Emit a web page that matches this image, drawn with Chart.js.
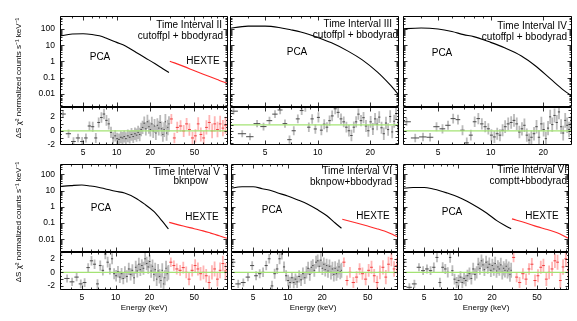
<!DOCTYPE html>
<html><head><meta charset="utf-8">
<script src="https://cdn.jsdelivr.net/npm/chart.js@4.4.1/dist/chart.umd.min.js"></script>
<style>
html,body{margin:0;padding:0;background:#fff;}
body{width:577px;height:321px;position:relative;overflow:hidden;font-family:"Liberation Sans",Arial,sans-serif;color:#000;}
canvas{position:absolute;}
.t{position:absolute;font-size:10px;line-height:10px;white-space:nowrap;}
.yt{position:absolute;font-size:8px;line-height:8px;white-space:nowrap;transform:translate(-50%,-50%) rotate(-90deg);}
.xt{position:absolute;font-size:8px;line-height:8px;white-space:nowrap;transform:translate(-50%,-50%);}
</style></head><body>
<script>
// ---------------- DATA ----------------
const pcaE = [3.3,3.7,4.1,4.5,4.9,5.3,5.7,6.1,6.5,6.9,7.3,7.7,8.1,8.5,8.9,9.3,9.7,10.1,10.5,10.9,11.3,11.7,12.1,12.6,13.1,13.6,14.1,14.6,15.1,15.6,16.1,16.6,17.1,17.7,18.3,18.9,19.5,20.1,20.7,21.3,21.9,22.5,23.2,23.9,24.6,25.3,26.0,26.7,27.4,28.1,28.8,29.5];
const hexteE = [31,33,35,37.5,40,42.5,45,48,51,54,57,60.5,64,68,72,76,80.5,85,90,95];
const pcaErr = [0.55,0.6,0.6,0.6,0.65,0.65,0.65,0.7,0.7,0.7,0.75,0.75,0.75,0.8,0.8,0.8,0.8,0.85,0.85,0.85,0.85,0.85,0.9,0.9,0.9,0.9,0.9,0.9,0.95,0.95,0.95,0.95,0.95,0.95,0.95,1.0,1.0,1.0,1.0,1.0,1.0,1.0,1.0,1.05,1.05,1.05,1.05,1.05,1.1,1.1,1.1,1.1];
const hexteErr = [0.7,0.75,0.8,0.8,0.85,0.85,0.9,0.9,0.95,0.95,1.0,1.0,1.0,1.05,1.05,1.1,1.1,1.15,1.15,1.2];

// residuals (PCA) per interval
const resII  = [2.4,-0.4,-1.5,-1.0,-1.5,-1.0,0.7,0.6,-1.0,1.2,1.9,2.4,1.5,1.0,-0.2,-1.0,-0.7,-1.1,-1.2,-0.9,-1.0,-0.8,-1.1,-0.7,-0.9,-0.5,-0.8,-0.4,-0.6,-0.2,-0.5,0.2,0.5,1.1,0.3,1.3,0.6,0.2,1.0,0.0,0.7,-0.3,0.8,0.4,1.2,0.3,-0.5,0.2,1.3,-0.3,0.5,1.0];
const resIII = [2.3,-1.5,-2.0,0.2,-0.3,0.7,1.8,2.5,0.2,-2.5,-1.0,1.0,2.4,3.0,-0.4,1.0,-0.7,1.25,-0.9,0.1,-0.4,0.7,1.5,2.7,2.1,1.0,0.5,-0.4,-1.0,-1.8,-0.4,0.5,1.8,0.7,1.2,-0.2,-1.0,0.5,-0.7,1.0,0.1,1.3,-0.5,-1.5,0.3,-0.8,1.4,-1.2,0.6,1.9,-0.3,0.8];
const resIV  = [1.3,-1.0,-0.85,-0.9,0.6,0.3,0.8,1.75,1.6,0.1,-1.7,-0.6,1.3,1.75,1.0,0.6,0.3,-0.6,-0.85,-0.4,-0.6,0.1,0.6,1.0,1.2,1.5,1.0,-0.15,0.3,0.8,-0.6,-1.3,-0.9,-0.4,0.6,-0.9,1.0,0.2,-1.1,0.4,2.0,0.9,2.2,1.2,2.7,0.6,-0.3,1.5,0.8,0.2,1.0,0.4];
const resV   = [3.0,-0.9,-1.4,-0.7,-1.7,-1.5,0.7,1.7,1.2,-1.7,1.0,0.3,2.7,1.5,0.5,2.0,-0.2,-0.5,0.1,-0.7,-0.2,-0.9,0.0,-0.6,0.5,-0.3,0.3,-0.8,0.75,0.2,1.2,0.4,1.0,0.6,2.0,1.3,0.8,1.6,0.2,0.9,-0.3,0.4,-1.0,0.2,-0.6,-1.2,0.3,-1.7,-0.8,0.6,-0.2,0.0];
const resVIa = [1.5,-1.7,-1.5,-0.7,1.0,-0.5,-0.2,0.0,1.0,2.0,-2.0,-0.2,0.5,2.0,2.7,0.8,-0.5,-1.2,-1.5,-0.8,-1.5,-1.0,-1.4,-0.6,-1.1,-0.2,-0.8,0.0,0.6,-0.3,0.75,1.0,0.3,1.5,1.7,0.9,1.8,0.6,1.2,0.4,1.0,0.2,0.9,0.0,0.5,-0.3,0.6,-0.2,0.3,0.8,0.1,0.3];
const resVIb = [1.5,-2.2,-1.7,0.75,0.25,0.5,0.25,0.75,2.2,-1.5,0.75,0.5,0.0,2.2,0.25,-1.0,-1.5,-1.2,-0.7,-1.5,-0.9,-1.2,-0.5,-0.2,-0.9,0.5,-0.3,0.0,1.2,0.6,1.7,1.1,0.4,1.5,0.75,1.2,0.3,1.0,0.5,1.3,0.2,0.8,0.5,1.1,0.0,0.6,0.3,0.9,0.2,0.5,-0.3,0.3];
// residuals (HEXTE)
const hexResII  = [1.7,-1.0,0.5,0.7,0.0,1.0,0.2,-1.0,-0.7,1.0,-0.5,-1.0,0.5,1.2,0.0,1.0,0.2,1.0,0.4,0.8];
const hexResV   = [1.5,1.0,0.5,0.3,0.7,0.0,-1.0,0.3,1.0,0.5,-0.2,0.0,-0.5,-1.5,0.0,0.5,-1.0,0.3,1.3,0.2];
const hexResVIa = [1.5,-1.2,0.0,-1.5,-0.7,0.5,-0.2,-1.0,0.3,0.75,-0.5,-1.5,0.0,0.75,-0.7,1.2,2.0,0.5,1.0,0.0];
const hexResVIb = [2.2,-0.7,-1.5,-0.2,-1.0,0.5,1.2,-1.2,-0.5,0.75,1.0,-1.0,0.0,0.5,1.7,1.5,-1.2,0.8,2.0,0.3];

// unfolded model curves (normalized counts s^-1 keV^-1)
const curveE = [3,4,5,6,7,8,10,12,15,18,22,26,29.5];
const curveII  = [35,49,51,46,38,28,15,9,3.6,1.7,0.75,0.36,0.21];
const curveIII = [100,150,150,125,90,65,30,14,4.2,1.25,0.22,0.036,0.0075];
const curveIV  = [100,115,100,70,45,34,15,7,2.2,0.55,0.085,0.018,0.007];
const curveV   = [17,20,22,19,16,13,9,7,3.5,1.5,0.5,0.13,0.043];
const curveVIa = [13,17,17,13,10.5,7.5,4.6,2.8,1.45,0.7,0.28,0.1,0.048];
const curveVIb = [13,15.5,15.5,12.5,9.5,7,4,2.2,0.9,0.4,0.14,0.07,0.045];
const hexCurveE = [30,40,50,60,70,80,90,100];
const hexCurveII  = [1.05,0.5,0.27,0.165,0.11,0.077,0.056,0.043];
const hexCurveV   = [0.11,0.065,0.045,0.033,0.024,0.018,0.014,0.011];
const hexCurveVIa = [0.17,0.1,0.065,0.045,0.032,0.022,0.015,0.011];
const hexCurveVIb = [0.18,0.1,0.06,0.042,0.03,0.021,0.014,0.01];

// text
const intervalTitles = ['Time Interval II','Time Interval III','Time Interval IV','Time Interval V','Time Interval VI','Time Interval VI'];
const modelNames = ['cutoffpl + bbodyrad','cutoffpl + bbodyrad','cutoffpl + bbodyrad','bknpow','bknpow+bbodyrad','comptt+bbodyrad'];
const specTickLabels = [100,10,1,0.1,0.01];
const resTickLabels = [2,0,-2];
const energyTicksWide = [5,10,20,50];
const energyTicksNarrow = [5,10,20];
const yTitle = 'ΔS χ² normalized counts s⁻¹ keV⁻¹';
const xTitle = 'Energy (keV)';

// ---------------- LAYOUT ----------------
const PL = 40, PR = 6, PT = 14;
const FONT = "'Liberation Sans', Arial, sans-serif";
const panels = [
  {l:60, r:228, st:16, sb:107, rb:145, xr:[3.1,100], ys:[0.00158,631], yr:[-2,3.4], yl:true, xl:energyTicksWide,
   res:resII, hres:hexResII, curve:curveII, hcurve:hexCurveII,
   tx:{tr:222,ty:25,mr:223,my:36,pca:[100,57],hx:[203,61]}},
  {l:230, r:399, st:16, sb:107, rb:145, xr:[3.15,29.2], ys:[0.00158,631], yr:[-3.4,3.0], yl:false, xl:energyTicksNarrow,
   res:resIII, hres:null, curve:curveIII, hcurve:null,
   tx:{tr:392,ty:24,mr:398,my:35,pca:[297,52]}},
  {l:403, r:572, st:16, sb:107, rb:145, xr:[3.15,29.2], ys:[0.00158,631], yr:[-2,3.4], yl:false, xl:energyTicksNarrow,
   res:resIV, hres:null, curve:curveIV, hcurve:null,
   tx:{tr:567,ty:26,mr:567,my:37,pca:[442,53]}},
  {l:60, r:228, st:164, sb:252, rb:290, xr:[3.2,100], ys:[0.00165,430], yr:[-2.6,3.0], yl:true, xl:energyTicksWide,
   res:resV, hres:hexResV, curve:curveV, hcurve:hexCurveV, xtitle:144,
   tx:{tr:220,ty:172,mr:208,my:181,pca:[101,208],hx:[202,217]}},
  {l:231, r:398, st:164, sb:252, rb:290, xr:[3.2,92], ys:[0.00165,430], yr:[-2.6,3.0], yl:false, xl:energyTicksWide,
   res:resVIa, hres:hexResVIa, curve:curveVIa, hcurve:hexCurveVIa, xtitle:313,
   tx:{tr:392,ty:171,mr:392,my:182,pca:[272,210],hx:[373,216]}},
  {l:403, r:569, st:164, sb:252, rb:290, xr:[3.25,96], ys:[0.00165,430], yr:[-2.6,3.0], yl:false, xl:energyTicksWide,
   res:resVIb, hres:hexResVIb, curve:curveVIb, hcurve:hexCurveVIb, xtitle:486,
   tx:{tr:567,ty:170,mr:567,my:181,pca:[452,212],hx:[542,216]}}
];

// ---------------- HELPERS ----------------
function errSegs(E, R, ERR){
  const v = [], h = [];
  for (let i = 0; i < E.length; i++){
    v.push({x:E[i], y:R[i]-ERR[i]}, {x:E[i], y:R[i]+ERR[i]}, {x:E[i], y:null});
    const lo = i > 0 ? Math.sqrt(E[i-1]*E[i]) : E[i]*E[i]/Math.sqrt(E[i]*E[i+1]);
    const hi = i < E.length-1 ? Math.sqrt(E[i]*E[i+1]) : E[i]*E[i]/Math.sqrt(E[i-1]*E[i]);
    h.push({x:lo, y:R[i]}, {x:hi, y:R[i]}, {x:hi, y:null});
  }
  return {v, h};
}
const pts = (E, V) => E.map((e,i) => ({x:e, y:V[i]}));

const framePlugin = {
  id: 'frame',
  afterDatasetsDraw(chart){
    const {ctx, chartArea:a, scales} = chart;
    const xs = scales.x, ys = scales.y;
    ctx.save();
    ctx.strokeStyle = '#000'; ctx.lineWidth = 1;
    const L = Math.round(a.left)+0.5, R = Math.round(a.right)-0.5, T = Math.round(a.top)+0.5, B = Math.round(a.bottom)-0.5;
    ctx.beginPath(); ctx.rect(L, T, R-L, B-T); ctx.stroke();
    ctx.lineWidth = 0.8;
    ctx.beginPath();
    for (let d = Math.floor(Math.log10(xs.min)); d <= Math.ceil(Math.log10(xs.max)); d++){
      for (let m = 1; m <= 9; m++){
        const v = m*Math.pow(10,d);
        if (v <= xs.min || v >= xs.max) continue;
        const p = Math.round(xs.getPixelForValue(v))+0.5;
        const len = (m === 1 || m === 5 || m === 2) ? 4 : 2;
        ctx.moveTo(p, B); ctx.lineTo(p, B-len);
        ctx.moveTo(p, T); ctx.lineTo(p, T+len);
      }
    }
    if (ys.type === 'logarithmic'){
      for (let d = Math.floor(Math.log10(ys.min)); d <= Math.ceil(Math.log10(ys.max)); d++){
        for (let m = 1; m <= 9; m++){
          const v = m*Math.pow(10,d);
          if (v <= ys.min || v >= ys.max) continue;
          const p = Math.round(ys.getPixelForValue(v))+0.5;
          const len = m === 1 ? 4 : 2;
          ctx.moveTo(L, p); ctx.lineTo(L+len, p);
          ctx.moveTo(R, p); ctx.lineTo(R-len, p);
        }
      }
    } else {
      for (let v = Math.ceil(ys.min*2)/2; v <= ys.max; v += 0.5){
        if (v <= ys.min || v >= ys.max) continue;
        const p = Math.round(ys.getPixelForValue(v))+0.5;
        const len = Number.isInteger(v) ? 3 : 1.5;
        ctx.moveTo(L, p); ctx.lineTo(L+len, p);
        ctx.moveTo(R, p); ctx.lineTo(R-len, p);
      }
    }
    ctx.stroke();
    ctx.restore();
  }
};

function makeChart(l, r, t, b, pb, xr, yType, yRange, yLabels, xLabels, datasets){
  const W = r - l + PL + PR, H = b - t + PT + pb;
  const c = document.createElement('canvas');
  c.width = W; c.height = H;
  c.style.left = (l-PL)+'px'; c.style.top = (t-PT)+'px';
  c.style.width = W+'px'; c.style.height = H+'px';
  document.body.appendChild(c);
  const xList = xLabels || [], yList = yLabels || [];
  return new Chart(c, {
    type: 'scatter',
    data: {datasets},
    options: {
      responsive: false, animation: false, events: [], devicePixelRatio: 1,
      layout: {padding: {left:0, top:PT, right:PR, bottom:0}},
      plugins: {legend:{display:false}, tooltip:{enabled:false}},
      scales: {
        x: {type:'logarithmic', min:xr[0], max:xr[1], position:'bottom',
            grid:{display:false, drawTicks:false}, border:{display:false},
            afterBuildTicks(s){ s.ticks = xList.map(v => ({value:v})); },
            ticks:{display: xList.length > 0, autoSkip:false, maxRotation:0, minRotation:0, padding:3, color:'#000',
                   font:{family:FONT, size:8.5}, callback: v => String(xList.find(t => Math.abs(t-v) < 1e-9*Math.max(1,Math.abs(t))) ?? '')},
            afterFit(s){ s.height = pb; s.paddingLeft = 0; s.paddingRight = 0; }},
        y: {type:yType, min:yRange[0], max:yRange[1], position:'left',
            grid:{display:false, drawTicks:false}, border:{display:false},
            afterBuildTicks(s){ s.ticks = yList.map(v => ({value:v})); },
            ticks:{display: yList.length > 0, autoSkip:false, padding:5, color:'#000',
                   font:{family:FONT, size:8.5}, callback: v => String(yList.find(t => Math.abs(t-v) < 1e-9*Math.max(1e-6,Math.abs(t))) ?? '')},
            afterFit(s){ s.width = PL; s.paddingTop = 0; s.paddingBottom = 0; }}
      }
    },
    plugins: [framePlugin]
  });
}

// ---------------- BUILD ----------------
panels.forEach((p, i) => {
  const sd = [{data: pts(curveE, p.curve), showLine:true, borderColor:'#000', borderWidth:1.1, pointRadius:0, cubicInterpolationMode:'monotone'}];
  if (p.hcurve) sd.push({data: pts(hexCurveE, p.hcurve), showLine:true, borderColor:'#ff2a2a', borderWidth:1.1, pointRadius:0, cubicInterpolationMode:'monotone'});
  makeChart(p.l, p.r, p.st, p.sb, 0, p.xr, 'logarithmic', p.ys, p.yl ? specTickLabels : null, null, sd);

  const pe = errSegs(pcaE, p.res, pcaErr);
  const rd = [
    {data:[{x:p.xr[0],y:0},{x:p.xr[1],y:0}], showLine:true, borderColor:'#a4e374', borderWidth:1.2, pointRadius:0},
    {data: pe.h, showLine:true, spanGaps:false, borderColor:'#4a4a4a', borderWidth:1, pointRadius:0}
  ];
  if (p.hres){
    const he = errSegs(hexteE, p.hres, hexteErr);
    rd.push({data: he.h, showLine:true, spanGaps:false, borderColor:'#f04040', borderWidth:1, pointRadius:0});
    rd.push({data: he.v, showLine:true, spanGaps:false, borderColor:'rgba(255,130,130,0.6)', borderWidth:1.8, pointRadius:0});
  }
  rd.push({data: pe.v, showLine:true, spanGaps:false, borderColor:'rgba(140,140,140,0.6)', borderWidth:1.8, pointRadius:0});
  makeChart(p.l, p.r, p.sb, p.rb, 14, p.xr, 'linear', p.yr, p.yl ? resTickLabels : null, p.xl, rd);

  const add = (txt, css) => { const d = document.createElement('div'); d.className = 't'; d.textContent = txt; Object.assign(d.style, css); document.body.appendChild(d); return d; };
  add(intervalTitles[i], {right:(577-p.tx.tr)+'px', top:(p.tx.ty-5)+'px', textAlign:'right'});
  add(modelNames[i], {right:(577-p.tx.mr)+'px', top:(p.tx.my-5)+'px', textAlign:'right'});
  add('PCA', {left:p.tx.pca[0]+'px', top:(p.tx.pca[1]-5)+'px', transform:'translateX(-50%)'});
  if (p.tx.hx) add('HEXTE', {left:p.tx.hx[0]+'px', top:(p.tx.hx[1]-5)+'px', transform:'translateX(-50%)'});
  if (p.xtitle){
    const d = document.createElement('div'); d.className = 'xt'; d.textContent = xTitle;
    d.style.left = p.xtitle+'px'; d.style.top = '308px'; document.body.appendChild(d);
  }
});
[[18.5,78],[18.5,222]].forEach(([x,y]) => {
  const d = document.createElement('div'); d.className = 'yt'; d.textContent = yTitle;
  d.style.left = x+'px'; d.style.top = y+'px'; document.body.appendChild(d);
});
</script>
</body></html>
